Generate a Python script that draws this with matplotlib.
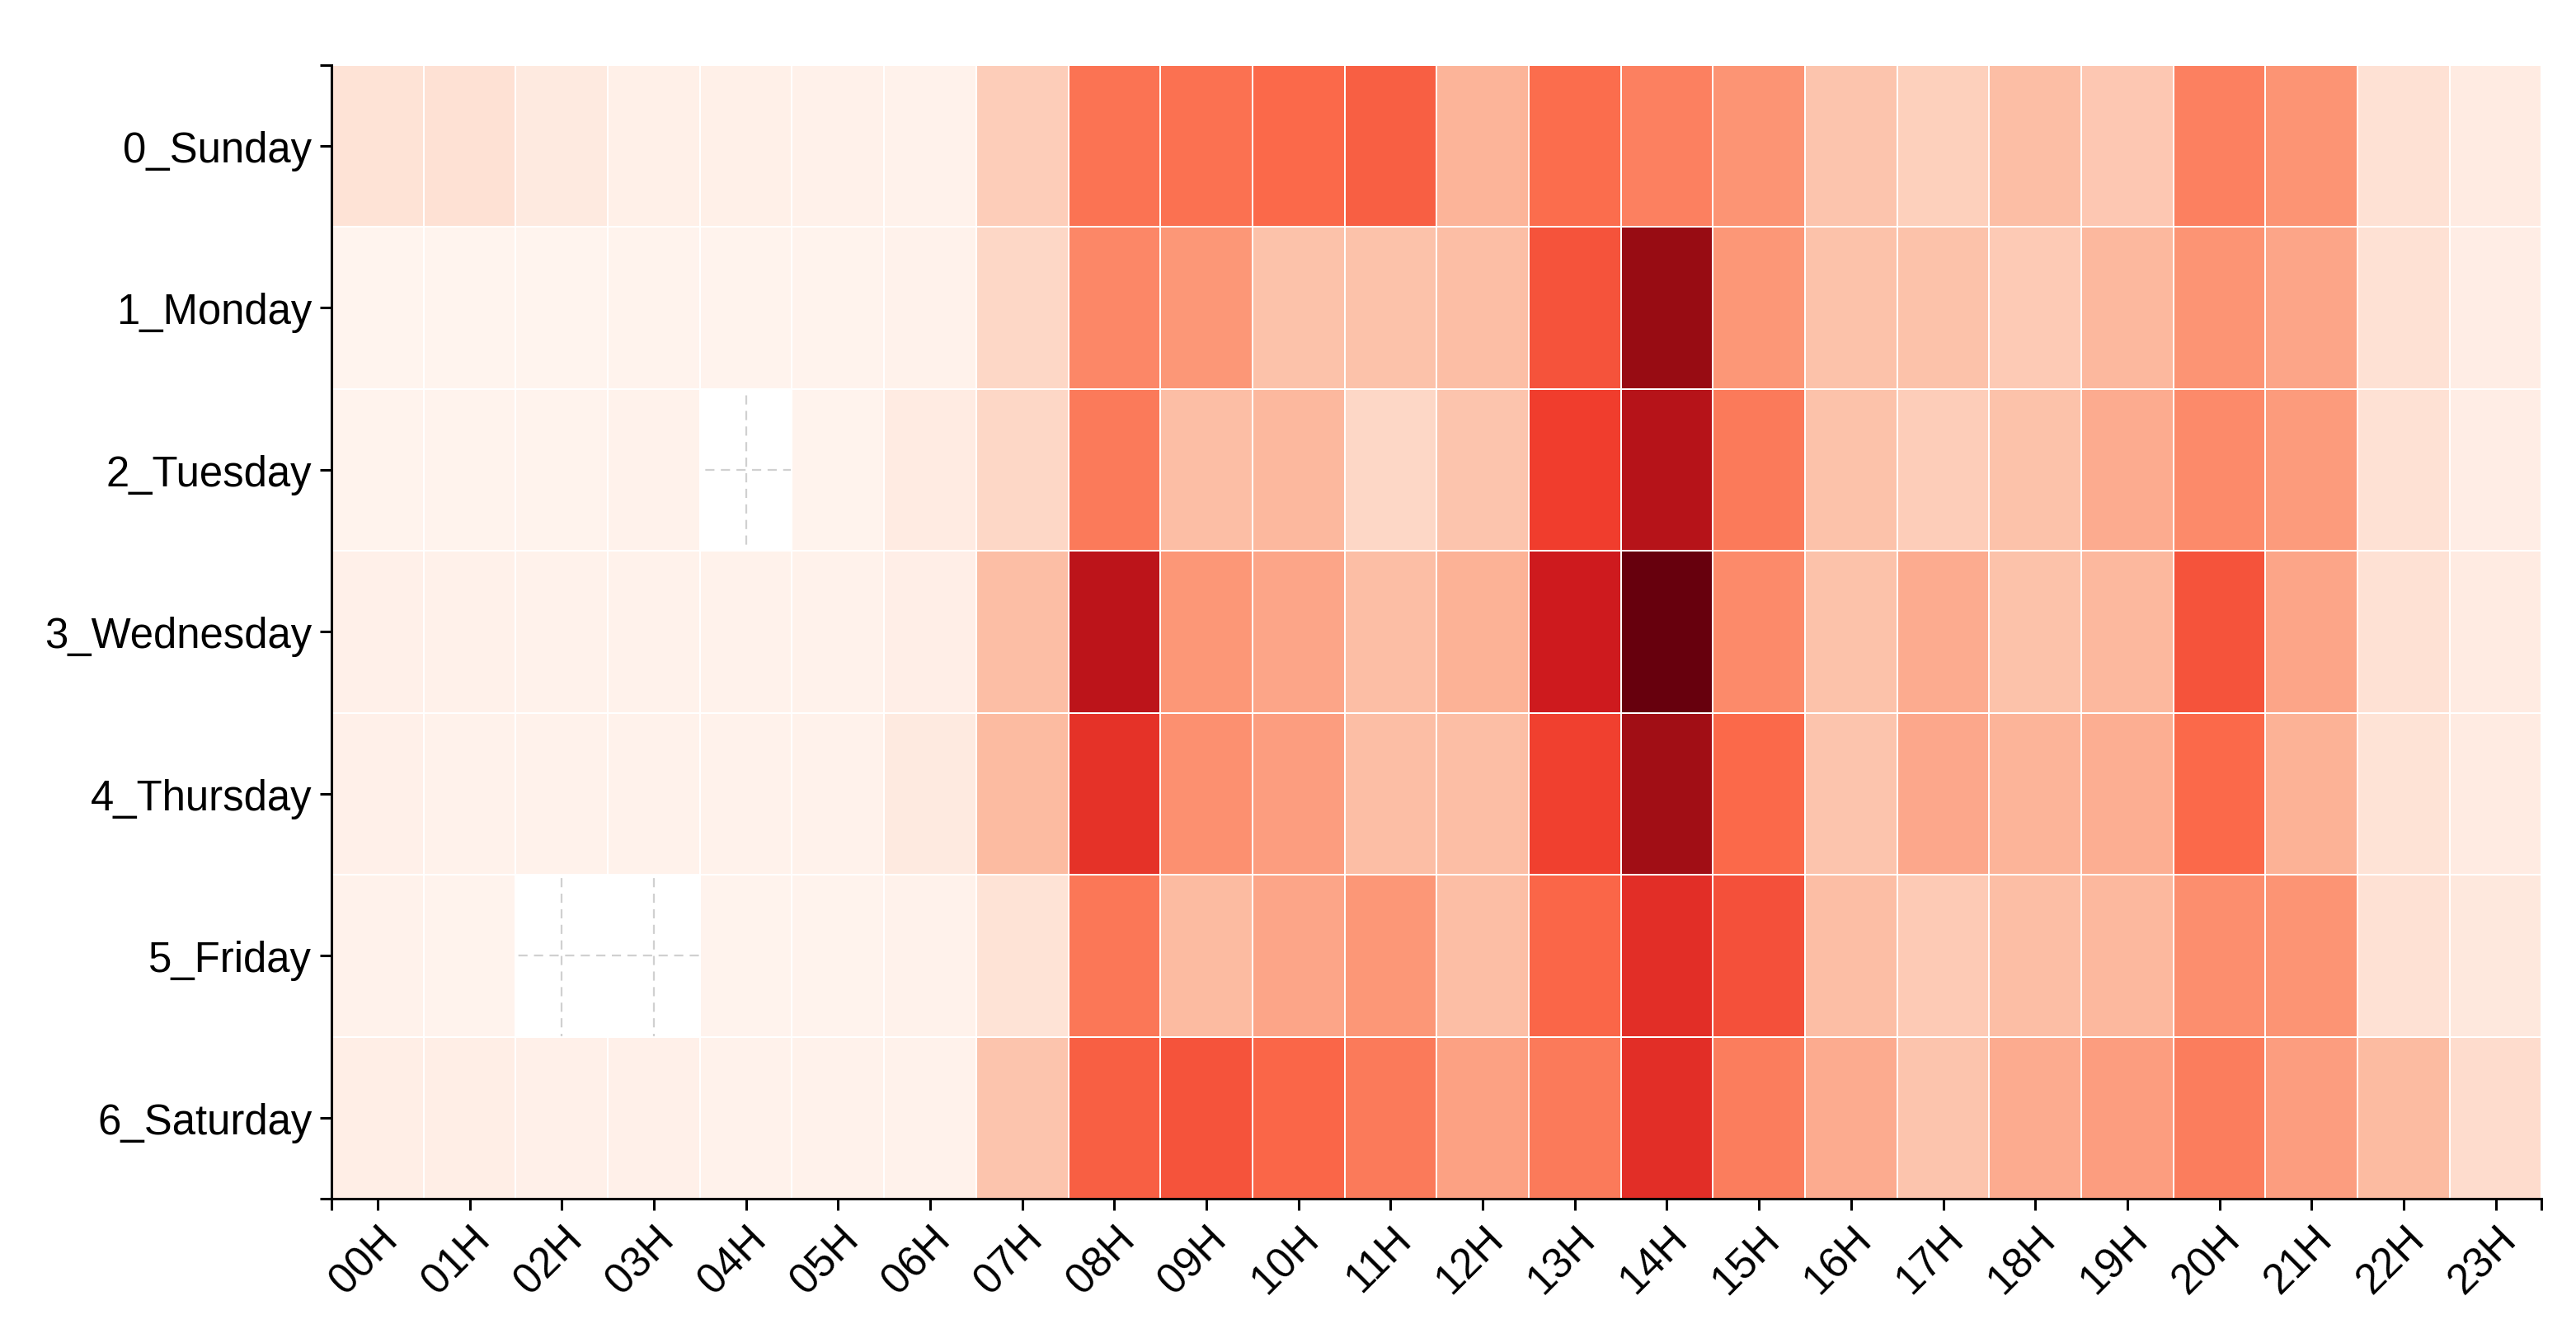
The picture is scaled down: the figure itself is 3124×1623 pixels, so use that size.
import numpy as np
import matplotlib
matplotlib.use("Agg")
from matplotlib import pyplot as plt

plt.rcParams['font.family'] = ['Liberation Sans', 'DejaVu Sans']

days = ["0_Sunday", "1_Monday", "2_Tuesday", "3_Wednesday", "4_Thursday", "5_Friday", "6_Saturday"]
hours = ["%02dH" % h for h in range(24)]

# relative activity per hour (0..1)
sunday    = [0.11, 0.12, 0.07, 0.035, 0.035, 0.025, 0.02, 0.19, 0.47, 0.48, 0.50, 0.53, 0.27, 0.49, 0.43, 0.37, 0.22, 0.18, 0.24, 0.21, 0.43, 0.37, 0.12, 0.06]
monday    = [0.01, 0.01, 0.01, 0.015, 0.015, 0.015, 0.02, 0.16, 0.41, 0.36, 0.23, 0.23, 0.24, 0.56, 0.90, 0.36, 0.23, 0.23, 0.20, 0.26, 0.37, 0.32, 0.12, 0.05]
tuesday   = [0.015, 0.015, 0.015, 0.02, np.nan, 0.015, 0.06, 0.16, 0.45, 0.24, 0.26, 0.16, 0.22, 0.62, 0.82, 0.45, 0.23, 0.19, 0.23, 0.30, 0.40, 0.35, 0.12, 0.05]
wednesday = [0.03, 0.025, 0.02, 0.02, 0.02, 0.02, 0.04, 0.24, 0.80, 0.36, 0.32, 0.24, 0.28, 0.74, 1.00, 0.40, 0.23, 0.30, 0.23, 0.26, 0.56, 0.32, 0.12, 0.06]
thursday  = [0.03, 0.02, 0.02, 0.02, 0.02, 0.02, 0.07, 0.25, 0.66, 0.38, 0.34, 0.24, 0.24, 0.61, 0.88, 0.50, 0.22, 0.31, 0.27, 0.29, 0.50, 0.28, 0.11, 0.06]
friday    = [0.02, 0.015, np.nan, np.nan, 0.015, 0.015, 0.02, 0.11, 0.46, 0.25, 0.32, 0.36, 0.24, 0.51, 0.67, 0.57, 0.24, 0.20, 0.24, 0.26, 0.39, 0.37, 0.12, 0.08]
saturday  = [0.045, 0.045, 0.03, 0.03, 0.02, 0.02, 0.02, 0.22, 0.53, 0.56, 0.51, 0.45, 0.33, 0.45, 0.67, 0.44, 0.30, 0.22, 0.30, 0.34, 0.44, 0.34, 0.25, 0.14]

data = np.array([sunday, monday, tuesday, wednesday, thursday, friday, saturday])

fig = plt.figure(figsize=(15.62, 8.12), dpi=200)
ax = fig.add_axes([0.1287, 0.104, 0.858, 0.847])

x_edges = np.arange(len(hours) + 1) - 0.5
y_edges = np.arange(len(days) + 1) - 0.5
ax.pcolormesh(x_edges, y_edges, np.ma.masked_invalid(data), cmap='Reds', vmin=0, vmax=1,
              edgecolor='white', linewidth=0.6, zorder=1)

ax.set_xlim(-0.5, len(hours) - 0.5)
ax.set_ylim(len(days) - 0.5, -0.5)

ax.set_xticks(range(len(hours)))
ax.set_xticklabels(hours, rotation=45, ha='right', rotation_mode='anchor', fontsize=18.3)
ax.set_yticks(range(len(days)))
ax.set_yticklabels(days, fontsize=18.3)
# end ticks on the axis lines
ax.set_xticks([-0.5, len(hours) - 0.5], minor=True)
ax.set_yticks([-0.5, len(days) - 0.5], minor=True)
ax.tick_params(which='both', direction='out', length=5, width=1.1, color='black', pad=3.5)

ax.grid(True, which='major', linestyle=(0, (5, 3.5)), color='#d0d0d0', linewidth=0.8)
ax.set_axisbelow(True)

for s in ['top', 'right']:
    ax.spines[s].set_visible(False)
for s in ['left', 'bottom']:
    ax.spines[s].set_linewidth(1.1)

plt.savefig('out.png', dpi=200)
